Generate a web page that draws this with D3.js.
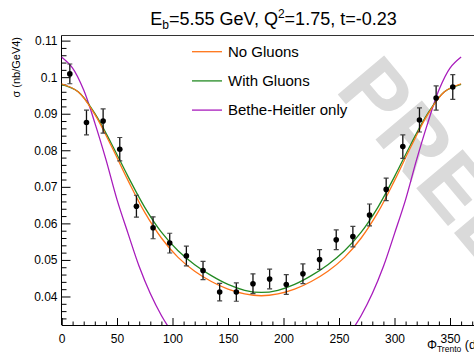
<!DOCTYPE html>
<html>
<head>
<meta charset="utf-8">
<script src="https://cdn.jsdelivr.net/npm/d3@7"></script>
<style>
  html, body { margin: 0; padding: 0; background: #fff; }
  svg { display: block; font-family: "Liberation Sans", Arial, Helvetica, sans-serif; }
</style>
</head>
<body>
<svg id="chart" width="474" height="355"></svg>
<script>
// Measured cross section, bins of 15 degrees in phi_Trento
const phi = [7.5, 22.5, 37.5, 52.5, 67.5, 82.5, 97.5, 112.5, 127.5, 142.5, 157.5, 172.5,
             187.5, 202.5, 217.5, 232.5, 247.5, 262.5, 277.5, 292.5, 307.5, 322.5, 337.5, 352.5];
const sigma = [0.1009, 0.0876, 0.0880, 0.0803, 0.0647, 0.0588, 0.0546, 0.0511, 0.0471, 0.0412, 0.0412, 0.0435,
               0.0448, 0.0433, 0.0462, 0.0501, 0.0555, 0.0564, 0.0623, 0.0693, 0.0810, 0.0883, 0.0943, 0.0973];
const sigmaErr = [0.0027, 0.0034, 0.0033, 0.0032, 0.0030, 0.0030, 0.0027, 0.0027, 0.0025, 0.0024, 0.0025, 0.0027,
                  0.0027, 0.0027, 0.0027, 0.0027, 0.0027, 0.0028, 0.0030, 0.0031, 0.0032, 0.0033, 0.0033, 0.0034];

// Model curves
const modelPhi = [0, 15, 30, 45, 60, 75, 90, 105, 120, 135, 150, 165, 180,
                  195, 210, 225, 240, 255, 270, 285, 300, 315, 330, 345, 360];
const noGluons = [0.0982, 0.0960, 0.0898, 0.0811, 0.0717, 0.0630, 0.0560, 0.0507, 0.0469, 0.0441, 0.0420, 0.0407, 0.0402,
                  0.0407, 0.0420, 0.0441, 0.0469, 0.0507, 0.0560, 0.0630, 0.0717, 0.0811, 0.0898, 0.0960, 0.0982];
const withGluons = [0.0980, 0.0960, 0.0901, 0.0818, 0.0728, 0.0644, 0.0576, 0.0525, 0.0487, 0.0457, 0.0433, 0.0417, 0.0411,
                    0.0417, 0.0433, 0.0457, 0.0487, 0.0525, 0.0576, 0.0644, 0.0728, 0.0818, 0.0901, 0.0960, 0.0980];
const bhPhi = [0, 10, 20, 30, 40, 50, 60, 70, 80, 90, 100, 110, 120, 130, 140, 150, 160, 170, 180,
               190, 200, 210, 220, 230, 240, 250, 260, 270, 280, 290, 300, 310, 320, 330, 340, 350, 360];
const betheHeitler = [0.1055, 0.1025, 0.0965, 0.0875, 0.0775, 0.0665, 0.0572, 0.0482, 0.0408, 0.0348, 0.0300, 0.0260,
                      0.0228, 0.0203, 0.0185, 0.0172, 0.0164, 0.0160, 0.0158,
                      0.0160, 0.0164, 0.0172, 0.0185, 0.0203, 0.0228, 0.0260, 0.0300, 0.0348, 0.0408, 0.0482,
                      0.0572, 0.0665, 0.0775, 0.0875, 0.0965, 0.1025, 0.1055];

const xMajor = [0, 50, 100, 150, 200, 250, 300, 350];
const yMajor = [0.04, 0.05, 0.06, 0.07, 0.08, 0.09, 0.1, 0.11];
const yMajorLabels = ["0.04", "0.05", "0.06", "0.07", "0.08", "0.09", "0.1", "0.11"];

const legendEntries = [
  { label: "No Gluons", color: "#ff7418" },
  { label: "With Gluons", color: "#238a23" },
  { label: "Bethe-Heitler only", color: "#a81cbc" }
];

const svg = d3.select("#chart");
const frame = { left: 61.5, right: 483.3, top: 35.5, bottom: 325 };

const x = d3.scaleLinear().domain([0, 380]).range([frame.left, frame.right]);
const y = d3.scaleLinear().domain([0.0322, 0.1114]).range([frame.bottom, frame.top]);

svg.append("defs").append("clipPath").attr("id", "plotClip")
  .append("rect")
  .attr("x", frame.left).attr("y", frame.top)
  .attr("width", frame.right - frame.left).attr("height", frame.bottom - frame.top);

// Watermark
svg.append("text")
  .attr("transform", "translate(334,90) rotate(50)")
  .attr("font-size", 88)
  .attr("font-weight", "bold")
  .attr("fill", "#dadada")
  .text("PRELIMINARY");

// Frame top line
svg.append("line")
  .attr("x1", frame.left).attr("x2", frame.right)
  .attr("y1", frame.top).attr("y2", frame.top)
  .attr("stroke", "#333").attr("stroke-width", 1);

// X axis, ticks pointing inward
const xAxis = d3.axisBottom(x)
  .tickValues(xMajor).tickSize(-7).tickPadding(9)
  .tickFormat(d3.format("d"));
const gx = svg.append("g").attr("transform", `translate(0,${frame.bottom})`).call(xAxis);
gx.selectAll(".tick line").attr("stroke", "#000");
gx.selectAll("text").attr("font-size", 12).attr("fill", "#000")
  .attr("font-family", "Liberation Sans, Arial, sans-serif");
gx.select(".domain").attr("stroke", "#000");
const xMinor = d3.range(0, 381, 10).filter(v => v % 50 !== 0);
const gxm = svg.append("g").attr("transform", `translate(0,${frame.bottom})`)
  .call(d3.axisBottom(x).tickValues(xMinor).tickSize(-3.5).tickFormat(""));
gxm.select(".domain").remove();
gxm.selectAll(".tick line").attr("stroke", "#000");

// Y axis, ticks pointing inward
const yAxis = d3.axisLeft(y)
  .tickValues(yMajor).tickSize(-9).tickPadding(4)
  .tickFormat((d, i) => yMajorLabels[i]);
const gy = svg.append("g").attr("transform", `translate(${frame.left},0)`).call(yAxis);
gy.selectAll(".tick line").attr("stroke", "#000");
gy.selectAll("text").attr("font-size", 12).attr("fill", "#000")
  .attr("font-family", "Liberation Sans, Arial, sans-serif");
gy.select(".domain").attr("d", `M0,${frame.top}V${frame.bottom}`).attr("stroke", "#000");
const yMinor = d3.range(0.034, 0.1113, 0.002).filter(v => Math.abs(Math.round(v * 100) - v * 100) > 1e-6);
const gym = svg.append("g").attr("transform", `translate(${frame.left},0)`)
  .call(d3.axisLeft(y).tickValues(yMinor).tickSize(-5).tickFormat(""));
gym.select(".domain").remove();
gym.selectAll(".tick line").attr("stroke", "#000");

// Axis titles
svg.append("text")
  .attr("transform", "translate(19.5,37) rotate(-90)")
  .attr("text-anchor", "end")
  .attr("font-size", 11)
  .text("σ (nb/GeV4)");

const xt = svg.append("text").attr("x", 427).attr("y", 348.5).attr("font-size", 12.5);
xt.append("tspan").text("Φ");
xt.append("tspan").attr("font-size", 8.5).attr("dy", 3.5).text("Trento");
xt.append("tspan").attr("dy", -3.5).text(" (deg)");

// Title
const title = svg.append("text").attr("x", 273.5).attr("y", 25)
  .attr("text-anchor", "middle").attr("font-size", 18);
title.append("tspan").text("E");
title.append("tspan").attr("font-size", 12).attr("dy", 4).text("b");
title.append("tspan").attr("dy", -4).text("=5.55 GeV, Q");
title.append("tspan").attr("font-size", 12).attr("dy", -7).text("2");
title.append("tspan").attr("dy", 7).text("=1.75, t=-0.23");

// Curves
const plot = svg.append("g").attr("clip-path", "url(#plotClip)");
const line = d3.line().x(d => x(d[0])).y(d => y(d[1])).curve(d3.curveCatmullRom.alpha(0.5));

plot.append("path")
  .datum(bhPhi.map((p, i) => [p, betheHeitler[i]]))
  .attr("d", line).attr("fill", "none")
  .attr("stroke", legendEntries[2].color).attr("stroke-width", 1.3);
plot.append("path")
  .datum(modelPhi.map((p, i) => [p, withGluons[i]]))
  .attr("d", line).attr("fill", "none")
  .attr("stroke", legendEntries[1].color).attr("stroke-width", 1.3);
plot.append("path")
  .datum(modelPhi.map((p, i) => [p, noGluons[i]]))
  .attr("d", line).attr("fill", "none")
  .attr("stroke", legendEntries[0].color).attr("stroke-width", 1.3);

// Data points with error bars
const pts = plot.append("g").selectAll("g")
  .data(phi.map((p, i) => ({ p, s: sigma[i], e: sigmaErr[i] })))
  .join("g");
pts.append("line")
  .attr("x1", d => x(d.p)).attr("x2", d => x(d.p))
  .attr("y1", d => y(d.s - d.e)).attr("y2", d => y(d.s + d.e))
  .attr("stroke", "#111").attr("stroke-width", 1.3);
pts.append("line")
  .attr("x1", d => x(d.p) - 2.5).attr("x2", d => x(d.p) + 2.5)
  .attr("y1", d => y(d.s + d.e)).attr("y2", d => y(d.s + d.e))
  .attr("stroke", "#444").attr("stroke-width", 1.2);
pts.append("line")
  .attr("x1", d => x(d.p) - 2.5).attr("x2", d => x(d.p) + 2.5)
  .attr("y1", d => y(d.s - d.e)).attr("y2", d => y(d.s - d.e))
  .attr("stroke", "#444").attr("stroke-width", 1.2);
pts.append("circle")
  .attr("cx", d => x(d.p)).attr("cy", d => y(d.s)).attr("r", 2.8)
  .attr("fill", "#000");

// Legend
const leg = svg.append("g").selectAll("g").data(legendEntries).join("g")
  .attr("transform", (d, i) => `translate(0,${51.7 + i * 29.2})`);
leg.append("line").attr("x1", 192).attr("x2", 222).attr("y1", 0).attr("y2", 0)
  .attr("stroke", d => d.color).attr("stroke-width", 1.3);
leg.append("text").attr("x", 228).attr("y", 5.3).attr("font-size", 15).text(d => d.label);
</script>
</body>
</html>
